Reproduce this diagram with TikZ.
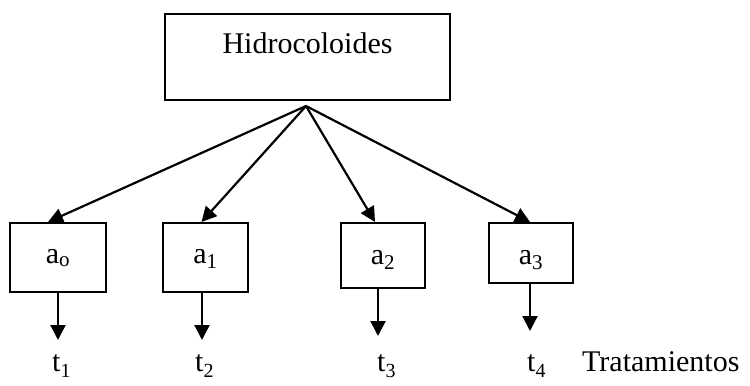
\documentclass[tikz,border=0pt]{standalone}
\usepackage{fontspec}
\setmainfont{Liberation Serif}
\usetikzlibrary{arrows.meta,calc}
\tikzset{
  box/.style={draw, line width=2bp, inner sep=0pt, align=center},
  arr/.style={line width=2.2bp, -{Triangle[length=15bp,width=15bp]}},
  lbl/.style={inner sep=0pt, anchor=base west}
}
\newcommand{\lowsub}[1]{\raisebox{-0.22em}{\fontsize{20bp}{24bp}\selectfont #1}}
\begin{document}
\begin{tikzpicture}[x=1bp,y=-1bp,font=\fontsize{30bp}{36bp}\selectfont]
\useasboundingbox (0,0) rectangle (750,385);
% top box
\node[box, minimum width=285bp, text height=39bp, text depth=47bp, anchor=north west] (hid) at (164,13) {Hidrocoloides};
\coordinate (apex) at (306,106);
% factor level boxes
\node[box, minimum width=96bp, text height=40bp, text depth=29bp, anchor=north west] (a0) at (9,222) {a\textsubscript{o}};
\node[box, minimum width=85bp, text height=40bp, text depth=29bp, anchor=north west] (a1) at (162,222) {a\textsubscript{1}};
\node[box, minimum width=84bp, text height=41bp, text depth=24bp, anchor=north west] (a2) at (340,222) {a\textsubscript{2}};
\node[box, minimum width=84bp, text height=41bp, text depth=19bp, anchor=north west] (a3) at (488,222) {a\textsubscript{3}};
% branches
\draw[arr] (apex) -- ([xshift=-10bp]a0.north);
\draw[arr] (apex) -- ([xshift=-4bp]a1.north);
\draw[arr] (apex) -- ([xshift=-8bp]a2.north);
\draw[arr] (apex) -- ([xshift=-1bp]a3.north);
% treatment outputs
\coordinate (e1) at (58,340);
\coordinate (e2) at (202,340);
\coordinate (e3) at (378,336);
\coordinate (e4) at (530,331);
\draw[arr] (a0.south -| e1) -- (e1);
\draw[arr] (a1.south -| e2) -- (e2);
\draw[arr] (a2.south -| e3) -- (e3);
\draw[arr] (a3.south -| e4) -- (e4);
\node[lbl] (t1) at (52,371) {t\lowsub{1}};
\node[lbl] (t2) at (195,371) {t\lowsub{2}};
\node[lbl] (t3) at (377,371) {t\lowsub{3}};
\node[lbl] (t4) at (527,371) {t\lowsub{4}};
\node[lbl] (tr) at (582,371) {Tratamientos};
\end{tikzpicture}
\end{document}
